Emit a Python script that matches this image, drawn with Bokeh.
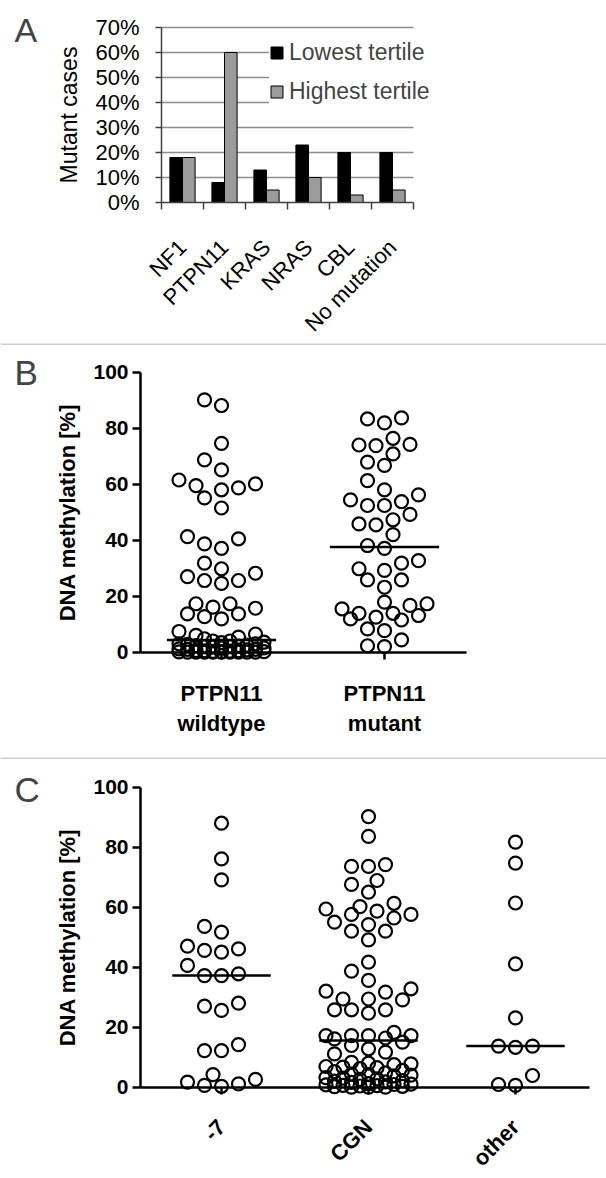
import numpy as np
from bokeh.plotting import figure
from bokeh.models import Range1d, FixedTicker, Legend, LegendItem, Label, Span
from bokeh.layouts import column
from bokeh.embed import file_html
from bokeh.resources import INLINE

FONT = "Liberation Sans"
W = 606

# ---------------- data ----------------
# Panel A (percent of cases)
genes = ["NF1", "PTPN11", "KRAS", "NRAS", "CBL", "No mutation"]
lowest_tertile = [18, 8, 13, 23, 20, 20]
highest_tertile = [18, 60, 5, 10, 3, 5]
pct_ticks = [0, 10, 20, 30, 40, 50, 60, 70]

# Panel B
groups_b = ["PTPN11\nwildtype", "PTPN11\nmutant"]
wildtype = [90.1, 88.1, 74.6, 68.7, 65.1, 61.5, 60.1, 59.5, 58.7, 58.0, 55.1, 51.5,
            41.3, 40.5, 38.7, 37.1, 31.8, 29.8, 28.2, 27.0, 25.6, 25.6, 24.6, 17.3,
            17.3, 16.1, 15.7, 13.7, 13.7, 12.7, 11.9, 7.4, 6.5, 6.0, 5.4, 4.8,
            4.0, 4.0, 3.6, 3.4, 3.0, 3.0, 2.8, 2.5, 2.4, 2.2, 2.0, 2.0, 1.8, 1.5,
            1.5, 1.2, 1.0, 1.0, 0.8, 0.6, 0.5, 0.5, 0.4, 0.3, 0.2, 0.2, 0.1,
            0.0, 0.0, 0.0, 0.0, 0.0, 0.0, 0.0, 0.0, 0.0]
mutant = [83.7, 83.3, 81.9, 76.4, 74.2, 74.0, 73.8, 70.8, 67.9, 66.7, 61.3, 58.0,
          56.2, 54.4, 53.8, 52.4, 52.4, 49.2, 47.3, 45.8, 45.5, 42.0, 38.1, 37.1,
          32.7, 31.8, 29.8, 29.2, 25.8, 25.8, 23.2, 17.9, 17.3, 16.7, 15.5, 13.9,
          13.9, 13.1, 12.5, 11.9, 11.5, 8.3, 7.7, 4.4, 2.3, 2.0]

# Panel C
groups_c = ["-7", "CGN", "other"]
monosomy7 = [88.0, 76.1, 69.1, 53.6, 51.7, 47.0, 46.1, 45.6, 45.0, 40.6, 37.8, 37.2,
             37.2, 28.0, 27.0, 25.6, 14.2, 12.2, 12.2, 4.2, 2.6, 1.7, 1.1, 0.6, 0.3]
cgn = [90.2, 83.6, 74.2, 73.6, 73.6, 68.9, 67.6, 65.0, 61.3, 60.2, 59.4, 58.7, 57.6,
       57.6, 56.4, 55.0, 54.2, 52.0, 52.0, 49.1, 41.7, 38.7, 35.6, 32.8, 32.0, 31.7,
       29.4, 29.4, 29.1, 25.8, 25.8, 25.8, 24.7, 18.3, 17.2, 17.2, 17.2, 17.2, 16.4,
       16.1, 15.0, 13.9, 12.8, 11.7, 11.1, 8.3, 8.0, 7.8, 7.5, 6.9, 6.7, 6.5, 6.2,
       5.6, 5.2, 4.8, 4.4, 4.2, 4.0, 3.8, 3.2, 3.0, 2.8, 2.6, 2.2, 2.0, 1.8, 1.6,
       1.2, 1.0, 0.9, 0.8, 0.6, 0.5, 0.4, 0.3, 0.2, 0.0, 0.0, 0.0]
other = [81.7, 74.7, 61.4, 41.1, 23.1, 13.7, 13.3, 13.7, 3.9, 0.6, 0.9]
meth_ticks = [0, 20, 40, 60, 80, 100]


# ---------------- layout helpers (pixel geometry -> ranges) ----------------
def x_range_for(ref_val, ref_px, ppu):
    start = ref_val - ref_px / ppu
    return Range1d(start, start + W / ppu)


def y_range_for(fig_top, height, ref_val, ref_px, ppu):
    top = ref_val + (ref_px - fig_top) / ppu
    return Range1d(top - height / ppu, top)


def swarm(vals, ppu_y, ppu_x, diam=14.0, step=8.5, half=44.0):
    """Beeswarm-style horizontal offsets (x data units) computed from the values."""
    vals = np.asarray(vals, float)
    n = int(half // step)
    cands = sorted([k * step for k in range(-n, n + 1)], key=lambda c: (abs(c), c))
    px, py = [], []
    offs = np.zeros(len(vals))
    for i in np.argsort(vals, kind="stable"):
        y = vals[i] * ppu_y
        best, best_d = 0.0, -1.0
        for c in cands:
            d = np.min(np.hypot(np.array(px) - c, np.array(py) - y)) if px else np.inf
            if d >= diam:
                best = c
                break
            if d > best_d + 1e-6:
                best, best_d = c, d
        offs[i] = best / ppu_x
        px.append(best)
        py.append(y)
    return offs


def base_fig(height, xr, yr):
    p = figure(width=W, height=height, x_range=xr, y_range=yr, toolbar_location=None,
               output_backend="svg", min_border=0, outline_line_color=None)
    p.xgrid.visible = False
    p.ygrid.visible = False
    return p


LABEL_SHIFT = 16  # baseline correction for panel letters

# ---------------- Panel A ----------------
HA = 343
pA = base_fig(HA, x_range_for(-0.5, 161, 42.0), y_range_for(0, HA, 0.0, 202, 2.5))
xc = np.arange(len(genes))
x_lo, x_hi = -0.5, len(genes) - 0.5
grid_r = pA.segment(x0=x_lo, x1=x_hi, y0=pct_ticks[1:], y1=pct_ticks[1:],
                    line_color="#8c8c8c", line_width=1.5)
grid_r.level = "underlay"
r1 = pA.vbar(x=xc - 0.15, top=lowest_tertile, width=0.3, fill_color="black",
             line_color="black", line_width=1)
r2 = pA.vbar(x=xc + 0.15, top=highest_tertile, width=0.3, fill_color="#9b9b9b",
             line_color="black", line_width=1)

xa, ya = pA.xaxis[0], pA.yaxis[0]
xa.fixed_location = 0
xa.bounds = (x_lo, x_hi)
xa.ticker = FixedTicker(ticks=list(xc), minor_ticks=[x - 0.5 for x in range(len(genes) + 1)])
xa.major_label_overrides = {int(i): g for i, g in zip(xc, genes)}
xa.major_tick_out = 0
xa.major_tick_in = 0
xa.minor_tick_out = 7
xa.minor_tick_in = 0
xa.major_label_orientation = np.pi / 4
xa.major_label_standoff = 34
ya.fixed_location = x_lo
ya.bounds = (0, 70)
ya.ticker = FixedTicker(ticks=pct_ticks)
ya.major_label_overrides = {int(t): f"{t}%" for t in pct_ticks}
ya.major_tick_out = 6
ya.major_tick_in = 0
ya.minor_tick_out = 0
ya.minor_tick_in = 0
ya.major_label_standoff = 16
ya.axis_label = "Mutant cases"
ya.axis_label_standoff = 10
ya.axis_label_text_font_size = "23px"
ya.axis_label_text_font_style = "normal"
for ax in (xa, ya):
    ax.axis_line_color = "#404040"
    ax.axis_line_width = 1.5
    ax.major_tick_line_color = "#404040"
    ax.minor_tick_line_color = "#404040"
    ax.major_tick_line_width = 1.5
    ax.minor_tick_line_width = 1.5
    ax.major_label_text_font = FONT
    ax.major_label_text_font_size = "22px"
    ax.major_label_text_color = "black"
    ax.axis_label_text_font = FONT
    ax.axis_label_text_color = "black"

legA = Legend(items=[LegendItem(label="Lowest tertile", renderers=[r1]),
                     LegendItem(label="Highest tertile", renderers=[r2])],
              location=(269, 238), label_text_font=FONT, label_text_font_size="23px",
              glyph_width=15, glyph_height=15, spacing=12, padding=4, margin=0,
              label_standoff=5, border_line_color=None, background_fill_color="white",
              background_fill_alpha=1.0)
pA.add_layout(legA)
pA.add_layout(Label(x=14, y=HA - 45 + LABEL_SHIFT, x_units="screen", y_units="screen",
                    text="A", text_font=FONT, text_font_size="34px",
                    text_baseline="alphabetic"))


# ---------------- dot-plot panels ----------------
def dot_panel(fig_top, height, groups, data, ppu_x, y0_px, ppu_y, label, label_base,
              axis_end_px, orientation, standoff, lab_size):
    xr = x_range_for(0.0, 221, ppu_x)
    yr = y_range_for(fig_top, height, 0.0, y0_px, ppu_y)
    p = base_fig(height, xr, yr)
    meds = []
    for i, vals in enumerate(data):
        offs = swarm(vals, ppu_y, ppu_x)
        p.scatter(x=i + offs, y=vals, marker="circle", size=13, fill_alpha=0,
                  line_color="black", line_width=2.2)
        meds.append(float(np.median(vals)))
    gi = np.arange(len(groups))
    p.segment(x0=gi - 0.335, x1=gi + 0.335, y0=meds, y1=meds, line_color="black",
              line_width=2.5)
    x_left = (140 - 221) / ppu_x
    x_right = (axis_end_px - 221) / ppu_x
    xa, ya = p.xaxis[0], p.yaxis[0]
    xa.fixed_location = 0
    xa.bounds = (x_left, x_right)
    xa.ticker = FixedTicker(ticks=list(gi))
    xa.major_label_overrides = {int(i): g for i, g in zip(gi, groups)}
    xa.major_tick_out = 7
    xa.major_tick_in = 0
    xa.minor_tick_out = 0
    xa.minor_tick_in = 0
    xa.major_label_standoff = standoff
    xa.major_label_orientation = orientation
    xa.major_label_text_font_size = lab_size
    ya.fixed_location = x_left
    ya.bounds = (0, 100)
    ya.ticker = FixedTicker(ticks=meth_ticks)
    ya.major_tick_out = 8
    ya.major_tick_in = 0
    ya.minor_tick_out = 0
    ya.minor_tick_in = 0
    ya.major_label_standoff = 4
    ya.major_label_text_font_size = "21px"
    ya.axis_label = "DNA methylation [%]"
    ya.axis_label_standoff = 10
    ya.axis_label_text_font_size = "22px"
    ya.axis_label_text_font_style = "bold"
    for ax in (xa, ya):
        ax.axis_line_color = "black"
        ax.axis_line_width = 2.5
        ax.major_tick_line_color = "black"
        ax.major_tick_line_width = 2.5
        ax.major_label_text_font = FONT
        ax.major_label_text_font_style = "bold"
        ax.major_label_text_color = "black"
        ax.axis_label_text_font = FONT
        ax.axis_label_text_color = "black"
    # thin grey separator line at the top edge of the panel
    p.add_layout(Span(location=yr.end - 0.5 / ppu_y, dimension="width",
                      line_color="#a0a0a0", line_width=1))
    p.add_layout(Label(x=14, y=height - label_base + LABEL_SHIFT, x_units="screen",
                       y_units="screen", text=label, text_font=FONT,
                       text_font_size="35px", text_baseline="alphabetic"))
    return p


pB = dot_panel(343, 414, groups_b, [wildtype, mutant], 163.0, 651.7, 2.8, "B", 388 - 343,
               466, "horizontal", 22, "22px")
pC = dot_panel(757, 421, groups_c, [monosomy7, cgn, other], 147.0, 1086.7, 3.0, "C",
               805 - 757, 589, np.pi / 4, 29, "22px")

layout = column(pA, pB, pC, spacing=0)
open("out.html", "w").write(file_html(layout, INLINE))
